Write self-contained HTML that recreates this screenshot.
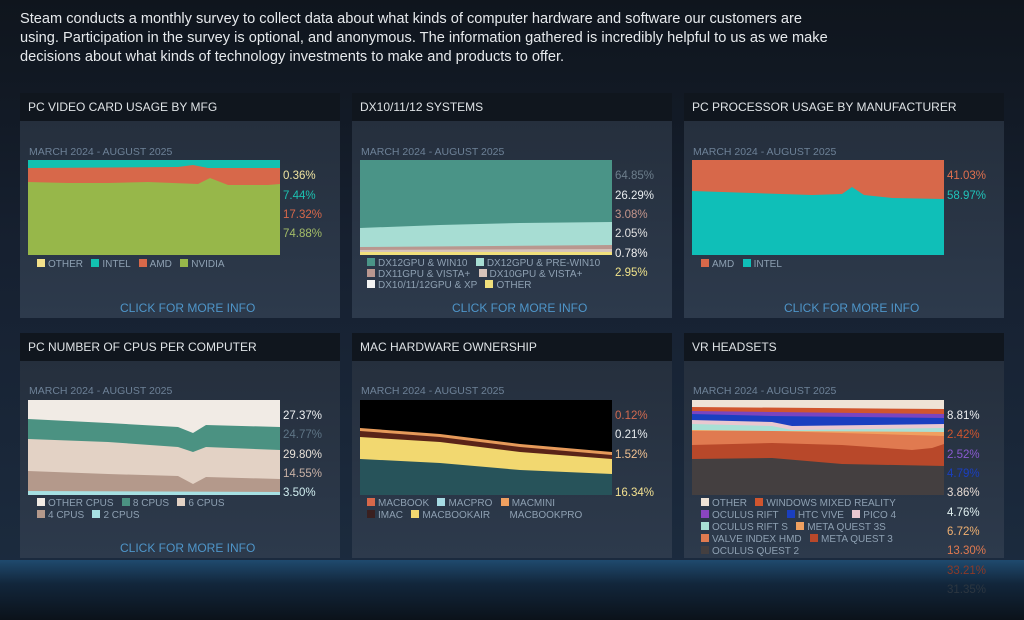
<!DOCTYPE html>
<html><head><meta charset="utf-8"><style>
*{margin:0;padding:0;box-sizing:border-box}
body{width:1024px;height:620px;overflow:hidden;background:#111a25;font-family:"Liberation Sans",sans-serif;position:relative}
.bg{position:absolute;left:0;top:0;width:1024px;height:620px;background:linear-gradient(180deg,#0f151d 0%,#162030 40%,#1b2a3d 88%,#1a2b40 100%)}
.band{position:absolute;left:0;top:560px;width:1024px;height:60px;background:linear-gradient(180deg,#1f4a6e 0%,#12263b 40%,#0b121a 100%)}
.intro{position:absolute;left:20px;top:10px;width:820px;color:#e6e9ec;font-size:14.6px;line-height:19px}
.hd{position:absolute;height:28px;background:#10161e;color:#dfe3e6;font-size:12px;padding:7px 0 0 8px;width:320px}
.bx{position:absolute;width:320px;height:197px;background:linear-gradient(180deg,#252f3d,#2d3a4c)}
.dt{position:absolute;color:#6d8197;font-size:10.5px}
.lab{position:absolute;font-size:11.5px}
.lg{position:absolute;font-size:10px;color:#8ea0b2;white-space:nowrap}
.lg i{display:inline-block;width:8px;height:8px;margin:0 3px 0 0;vertical-align:0}
.cl{position:absolute;color:#4e95c9;font-size:12px}
svg{position:absolute}
</style></head><body>
<div class="bg"></div><div class="band"></div>
<div class="intro">Steam conducts a monthly survey to collect data about what kinds of computer hardware and software our customers are using. Participation in the survey is optional, and anonymous. The information gathered is incredibly helpful to us as we make decisions about what kinds of technology investments to make and products to offer.</div>

<div class="hd" style="left:20px;top:93px">PC VIDEO CARD USAGE BY MFG</div>
<div class="hd" style="left:352px;top:93px">DX10/11/12 SYSTEMS</div>
<div class="hd" style="left:684px;top:93px">PC PROCESSOR USAGE BY MANUFACTURER</div>
<div class="hd" style="left:20px;top:333px">PC NUMBER OF CPUS PER COMPUTER</div>
<div class="hd" style="left:352px;top:333px">MAC HARDWARE OWNERSHIP</div>
<div class="hd" style="left:684px;top:333px">VR HEADSETS</div>
<div class="bx" style="left:20px;top:121px"></div>
<div class="bx" style="left:352px;top:121px"></div>
<div class="bx" style="left:684px;top:121px"></div>
<div class="bx" style="left:20px;top:361px"></div>
<div class="bx" style="left:352px;top:361px"></div>
<div class="bx" style="left:684px;top:361px"></div>

<div class="dt" style="left:29px;top:146px">MARCH 2024 - AUGUST 2025</div>
<div class="dt" style="left:361px;top:146px">MARCH 2024 - AUGUST 2025</div>
<div class="dt" style="left:693px;top:146px">MARCH 2024 - AUGUST 2025</div>
<div class="dt" style="left:29px;top:385px">MARCH 2024 - AUGUST 2025</div>
<div class="dt" style="left:361px;top:385px">MARCH 2024 - AUGUST 2025</div>
<div class="dt" style="left:693px;top:385px">MARCH 2024 - AUGUST 2025</div>

<svg style="left:28px;top:160px" width="252" height="95" viewBox="0 0 252 95">
<rect width="252" height="95" fill="#12c1b0"/>
<polygon points="0,8 150,7 165,5 180,8 252,8 252,95 0,95" fill="#d7684a"/>
<polygon points="0,22 40,23 80,23 120,22 170,24 182,18 200,25 240,25 252,24 252,95 0,95" fill="#97b74a"/>
</svg>
<div class="lab" style="left:283px;top:170px;color:#f0e4a0">0.36%</div>
<div class="lab" style="left:283px;top:190px;color:#1cc0b0">7.44%</div>
<div class="lab" style="left:283px;top:209px;color:#d7684a">17.32%</div>
<div class="lab" style="left:283px;top:228px;color:#a4bd68">74.88%</div>
<div class="lg" style="left:37px;top:259px"><i style="background:#f3e08a"></i>OTHER &nbsp;&nbsp;<i style="background:#12c1b0"></i>INTEL &nbsp;&nbsp;<i style="background:#d7684a"></i>AMD &nbsp;&nbsp;<i style="background:#97b74a"></i>NVIDIA</div>
<div class="cl" style="left:120px;top:301px">CLICK FOR MORE INFO</div>

<svg style="left:360px;top:160px" width="252" height="95" viewBox="0 0 252 95">
<rect width="252" height="95" fill="#4a9487"/>
<polygon points="0,68 80,65 160,63 252,62 252,95 0,95" fill="#a7ddd3"/>
<polygon points="0,87 252,85 252,95 0,95" fill="#b9978f"/>
<polygon points="0,90 252,89 252,95 0,95" fill="#d6c3ba"/>
<rect y="92" width="252" height="3" fill="#f1e07c"/>
</svg>
<div class="lab" style="left:615px;top:170px;color:#6d7e8c">64.85%</div>
<div class="lab" style="left:615px;top:190px;color:#e8ecef">26.29%</div>
<div class="lab" style="left:615px;top:209px;color:#c3958b">3.08%</div>
<div class="lab" style="left:615px;top:228px;color:#e2e2e2">2.05%</div>
<div class="lab" style="left:615px;top:248px;color:#f0f0f0">0.78%</div>
<div class="lab" style="left:615px;top:267px;color:#f0e38a">2.95%</div>
<div class="lg" style="left:367px;top:258px"><i style="background:#4a9487"></i>DX12GPU &amp; WIN10 &nbsp;&nbsp;<i style="background:#a7ddd3"></i>DX12GPU &amp; PRE-WIN10</div>
<div class="lg" style="left:367px;top:269px"><i style="background:#b9978f"></i>DX11GPU &amp; VISTA+ &nbsp;&nbsp;<i style="background:#d6c3ba"></i>DX10GPU &amp; VISTA+</div>
<div class="lg" style="left:367px;top:280px"><i style="background:#f4f4f4"></i>DX10/11/12GPU &amp; XP &nbsp;&nbsp;<i style="background:#f1e07c"></i>OTHER</div>
<div class="cl" style="left:452px;top:301px">CLICK FOR MORE INFO</div>

<svg style="left:692px;top:160px" width="252" height="95" viewBox="0 0 252 95">
<rect width="252" height="95" fill="#d7684a"/>
<polygon points="0,31 60,33 120,35 150,34 160,27 172,35 200,38 252,39 252,95 0,95" fill="#0fbfb8"/>
</svg>
<div class="lab" style="left:947px;top:170px;color:#e0704e">41.03%</div>
<div class="lab" style="left:947px;top:190px;color:#1fc3ba">58.97%</div>
<div class="lg" style="left:701px;top:259px"><i style="background:#d7684a"></i>AMD &nbsp;&nbsp;<i style="background:#0fbfb8"></i>INTEL</div>
<div class="cl" style="left:784px;top:301px">CLICK FOR MORE INFO</div>

<svg style="left:28px;top:400px" width="252" height="95" viewBox="0 0 252 95">
<rect width="252" height="95" fill="#f1ebe5"/>
<polygon points="0,19 80,23 150,27 165,33 178,25 252,27 252,95 0,95" fill="#4b9282"/>
<polygon points="0,39 80,42 150,47 165,52 178,47 252,50 252,95 0,95" fill="#e3d2c5"/>
<polygon points="0,71 80,74 150,76 165,84 178,77 252,79 252,95 0,95" fill="#b4998b"/>
<polygon points="0,91 252,92 252,95 0,95" fill="#a6e0e3"/>
</svg>
<div class="lab" style="left:283px;top:410px;color:#eef0f2">27.37%</div>
<div class="lab" style="left:283px;top:429px;color:#5f7586">24.77%</div>
<div class="lab" style="left:283px;top:449px;color:#e8e1d8">29.80%</div>
<div class="lab" style="left:283px;top:468px;color:#c9b2a6">14.55%</div>
<div class="lab" style="left:283px;top:487px;color:#d0eef0">3.50%</div>
<div class="lg" style="left:37px;top:498px"><i style="background:#f1ebe5"></i>OTHER CPUS &nbsp;&nbsp;<i style="background:#4b9282"></i>8 CPUS &nbsp;&nbsp;<i style="background:#e3d2c5"></i>6 CPUS</div>
<div class="lg" style="left:37px;top:510px"><i style="background:#b4998b"></i>4 CPUS &nbsp;&nbsp;<i style="background:#a6e0e3"></i>2 CPUS</div>
<div class="cl" style="left:120px;top:541px">CLICK FOR MORE INFO</div>

<svg style="left:360px;top:400px" width="252" height="95" viewBox="0 0 252 95">
<rect width="252" height="95" fill="#000"/>
<polygon points="0,28 80,34 160,44 252,52 252,95 0,95" fill="#e69a5a"/>
<polygon points="0,31 80,37 160,47 252,55 252,95 0,95" fill="#5a2418"/>
<polygon points="0,37 80,42 160,52 252,59 252,95 0,95" fill="#f2d870"/>
<polygon points="0,59 80,63 160,70 252,74 252,95 0,95" fill="#27535a"/>
</svg>
<div class="lab" style="left:615px;top:410px;color:#d16a50">0.12%</div>
<div class="lab" style="left:615px;top:429px;color:#e8ecef">0.21%</div>
<div class="lab" style="left:615px;top:449px;color:#f0c090">1.52%</div>
<div class="lab" style="left:615px;top:487px;color:#f2e090">16.34%</div>
<div class="lg" style="left:367px;top:498px"><i style="background:#d7684a"></i>MACBOOK &nbsp;&nbsp;<i style="background:#a6dbe4"></i>MACPRO &nbsp;&nbsp;<i style="background:#f0a060"></i>MACMINI</div>
<div class="lg" style="left:367px;top:510px"><i style="background:#3a2020"></i>IMAC &nbsp;&nbsp;<i style="background:#f2d870"></i>MACBOOKAIR &nbsp;&nbsp;<i style="background:transparent"></i>MACBOOKPRO</div>

<svg style="left:692px;top:400px" width="252" height="95" viewBox="0 0 252 95">
<rect width="252" height="95" fill="#efe3d6"/>
<polygon points="0,7 252,9 252,95 0,95" fill="#d0552e"/>
<polygon points="0,11 80,12 252,14 252,95 0,95" fill="#7a45c0"/>
<polygon points="0,14 80,16 252,18 252,95 0,95" fill="#1a3fc0"/>
<polygon points="0,20 80,22 100,26 252,24 252,95 0,95" fill="#e9c8d0"/>
<polygon points="0,24 80,26 100,30 252,28 252,95 0,95" fill="#a8e0d5"/>
<polygon points="0,30 80,31 252,32 252,95 0,95" fill="#f0a060"/>
<polygon points="0,31 80,31 252,36 252,95 0,95" fill="#e07a50"/>
<polygon points="0,45 80,43 150,45 220,50 240,48 252,44 252,95 0,95" fill="#b8482a"/>
<polygon points="0,59 80,58 150,64 252,66 252,95 0,95" fill="#443f40"/>
</svg>
<div class="lab" style="left:947px;top:410px;color:#eef0f2">8.81%</div>
<div class="lab" style="left:947px;top:429px;color:#d0552e">2.42%</div>
<div class="lab" style="left:947px;top:449px;color:#8a5ad0">2.52%</div>
<div class="lab" style="left:947px;top:468px;color:#1a3fc0">4.79%</div>
<div class="lab" style="left:947px;top:487px;color:#e8dcd4">3.86%</div>
<div class="lab" style="left:947px;top:507px;color:#e0f0f0">4.76%</div>
<div class="lab" style="left:947px;top:526px;color:#f0b070">6.72%</div>
<div class="lab" style="left:947px;top:545px;color:#e07a50">13.30%</div>
<div class="lab" style="left:947px;top:565px;color:#8a3a28">33.21%</div>
<div class="lab" style="left:947px;top:584px;color:#2c3640">31.35%</div>
<div class="lg" style="left:701px;top:498px"><i style="background:#efe3d6"></i>OTHER &nbsp;&nbsp;<i style="background:#d0552e"></i>WINDOWS MIXED REALITY</div>
<div class="lg" style="left:701px;top:510px"><i style="background:#8a45c0"></i>OCULUS RIFT &nbsp;&nbsp;<i style="background:#1a3fc0"></i>HTC VIVE &nbsp;&nbsp;<i style="background:#e9c8d0"></i>PICO 4</div>
<div class="lg" style="left:701px;top:522px"><i style="background:#a8e0d5"></i>OCULUS RIFT S &nbsp;&nbsp;<i style="background:#f0a060"></i>META QUEST 3S</div>
<div class="lg" style="left:701px;top:534px"><i style="background:#e07a50"></i>VALVE INDEX HMD &nbsp;&nbsp;<i style="background:#b8482a"></i>META QUEST 3</div>
<div class="lg" style="left:701px;top:546px"><i style="background:#443f40"></i>OCULUS QUEST 2</div>
</body></html>
